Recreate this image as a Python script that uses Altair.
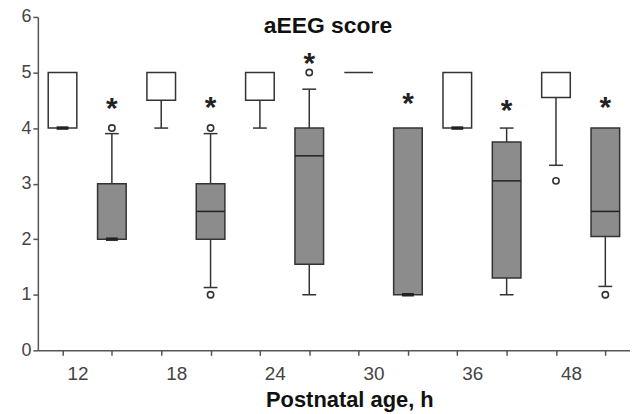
import altair as alt
import pandas as pd

# ---- data ----
age_labels = ["12", "18", "24", "30", "36", "48"]
positions = list(range(12))                     # 2 boxes per age (white, gray)
groups = ["white", "gray"] * 6
q1 = [4.0, 2.0, 4.5, 2.0, 4.5, 1.55, 5.0, 1.0, 4.0, 1.3, 4.55, 2.05]
q3 = [5.0, 3.0, 5.0, 3.0, 5.0, 4.0, 5.0, 4.0, 5.0, 3.75, 5.0, 4.0]
# medians drawn as a line across the box
median_line_pos = [3, 5, 9, 11]
median_line_val = [2.5, 3.5, 3.05, 2.5]
# medians that coincide with the lower quartile (short thick marker)
median_low_pos = [0, 1, 7, 8]
median_low_val = [4.0, 2.0, 1.0, 4.0]
# whiskers
upper_w_pos = [1, 3, 5, 9]
upper_w_val = [3.9, 3.9, 4.7, 4.0]
lower_w_pos = [2, 3, 4, 5, 9, 10, 11]
lower_w_val = [4.0, 1.13, 4.0, 1.0, 1.0, 3.33, 1.15]
# outliers
out_pos = [1, 3, 3, 5, 10, 11]
out_val = [4.0, 4.0, 1.0, 5.0, 3.05, 1.0]
# significance stars
star_pos = [1, 3, 5, 7, 9, 11]
star_val = [4.44, 4.45, 5.25, 4.53, 4.39, 4.45]

HALF_BOX = 0.29
HALF_CAP = 0.14
HALF_MED = 0.12
STROKE = "#333333"

boxes = pd.DataFrame({"pos": positions, "group": groups, "q1": q1, "q3": q3})
boxes["x1"] = boxes["pos"] - HALF_BOX
boxes["x2"] = boxes["pos"] + HALF_BOX

up = pd.DataFrame({"pos": upper_w_pos, "end": upper_w_val})
up["start"] = [q3[p] for p in upper_w_pos]
lo = pd.DataFrame({"pos": lower_w_pos, "end": lower_w_val})
lo["start"] = [q1[p] for p in lower_w_pos]
whisk = pd.concat([up, lo], ignore_index=True)
whisk["c1"] = whisk["pos"] - HALF_CAP
whisk["c2"] = whisk["pos"] + HALF_CAP

med = pd.DataFrame({"pos": median_line_pos, "val": median_line_val})
med["x1"] = med["pos"] - HALF_BOX
med["x2"] = med["pos"] + HALF_BOX
medlow = pd.DataFrame({"pos": median_low_pos, "val": median_low_val})
medlow["x1"] = medlow["pos"] - HALF_MED
medlow["x2"] = medlow["pos"] + HALF_MED

outl = pd.DataFrame({"pos": out_pos, "val": out_val})
stars = pd.DataFrame({"pos": star_pos, "val": star_val})

label_array = "[" + ",".join("'" + s + "'" for s in age_labels) + "]"
label_expr = "datum.value % 2 == 0 ? " + label_array + "[datum.value / 2] : ''"

xscale = alt.Scale(domain=[-0.5, 11.5], nice=False, zero=False)
yscale = alt.Scale(domain=[0, 6], nice=False)

xaxis = alt.Axis(
    values=positions, grid=False, title="Postnatal age, h",
    labelExpr=label_expr,
    labelOffset=15, labelPadding=9, labelFontSize=19, labelColor="#444444",
    labelFont="Liberation Sans", tickSize=5, tickColor="#555555", tickWidth=1.5,
    domainColor="#555555", domainWidth=1.5,
    titleFont="Liberation Sans", titleFontSize=22, titleFontWeight="bold",
    titleColor="#111111", titleX=313, titleY=56, titleBaseline="alphabetic",
)
yaxis = alt.Axis(
    values=[0, 1, 2, 3, 4, 5, 6], grid=False, title=None, format="d",
    labelFontSize=18, labelColor="#444444", labelFont="Liberation Sans",
    labelPadding=2, tickSize=5, tickColor="#555555", tickWidth=1.5,
    domainColor="#555555", domainWidth=1.5,
)

base_x = alt.X("pos:Q", scale=xscale, axis=xaxis)

whisker_lines = alt.Chart(whisk).mark_rule(color=STROKE, strokeWidth=1.5).encode(
    x=base_x,
    y=alt.Y("start:Q", scale=yscale, axis=yaxis),
    y2="end:Q",
)
caps = alt.Chart(whisk).mark_rule(color=STROKE, strokeWidth=1.5).encode(
    x="c1:Q", x2="c2:Q", y="end:Q",
)
box_rects = alt.Chart(boxes).mark_rect(stroke=STROKE, strokeWidth=1.5).encode(
    x="x1:Q", x2="x2:Q", y="q1:Q", y2="q3:Q",
    fill=alt.Fill("group:N", scale=alt.Scale(domain=["white", "gray"],
                                             range=["#ffffff", "#8c8c8c"]),
                  legend=None),
)
med_lines = alt.Chart(med).mark_rule(color="#222222", strokeWidth=1.5).encode(
    x="x1:Q", x2="x2:Q", y="val:Q",
)
med_low = alt.Chart(medlow).mark_rule(color="#222222", strokeWidth=3.5).encode(
    x="x1:Q", x2="x2:Q", y="val:Q",
)
outliers = alt.Chart(outl).mark_point(
    shape="circle", filled=False, color=STROKE, strokeWidth=1.6, size=40, opacity=1
).encode(x="pos:Q", y="val:Q")
star_marks = alt.Chart(stars).mark_text(
    text="*", font="Liberation Sans", fontSize=30, fontWeight="bold",
    color="#222222", baseline="middle", dy=5
).encode(x="pos:Q", y="val:Q")

chart = alt.layer(
    whisker_lines, caps, box_rects, med_lines, med_low, outliers, star_marks
).properties(
    width=595, height=335,
    title=alt.TitleParams("aEEG score", font="Liberation Sans", fontSize=23,
                          fontWeight="bold", color="#111111", anchor="middle",
                          dx=-6, dy=34),
    autosize=alt.AutoSizeParams(type="none"),
    padding={"left": 30, "top": 8, "right": 0, "bottom": 62},
    background="white",
).configure_view(stroke=None)

chart.save("out.html", embed_options={"renderer": "svg", "actions": False})
